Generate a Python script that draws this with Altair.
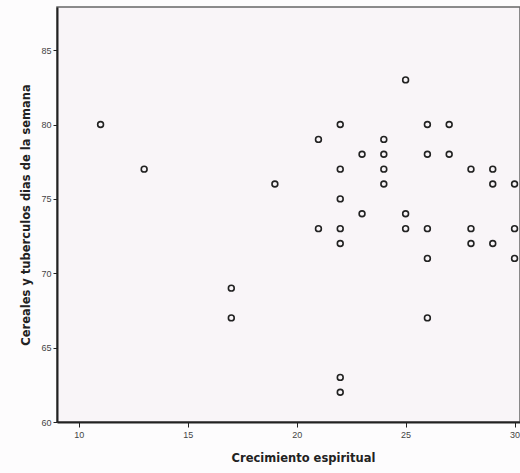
import altair as alt
import pandas as pd

crecimiento = [11, 13, 17, 17, 19, 21, 21, 22, 22, 22, 22, 22, 22, 22,
               23, 23, 24, 24, 24, 24, 25, 25, 25, 26, 26, 26, 26, 26,
               27, 27, 28, 28, 28, 29, 29, 29, 30, 30, 30]
cereales = [80, 77, 69, 67, 76, 79, 73, 80, 77, 75, 73, 72, 63, 62,
            78, 74, 79, 78, 77, 76, 83, 74, 73, 80, 78, 73, 71, 67,
            80, 78, 77, 73, 72, 77, 76, 72, 76, 73, 71]

x_ticks = [10, 15, 20, 25, 30]
y_ticks = [60, 65, 70, 75, 80, 85]

df = pd.DataFrame({"x": crecimiento, "y": cereales})

font = "Liberation Sans"
title_font = "DejaVu Sans"

chart = alt.Chart(df).mark_point(
    shape="circle", filled=False, size=34, strokeWidth=1.6, color="#222222", opacity=1
).encode(
    x=alt.X("x:Q", scale=alt.Scale(domain=[9, 30.25], nice=False, zero=False),
            axis=alt.Axis(title="Crecimiento espiritual", values=x_ticks, grid=False,
                          domainColor="#222", domainWidth=2, tickColor="#222", tickSize=5,
                          labelFontSize=9, labelColor="#444", labelFont=font, labelPadding=3,
                          titleFont=title_font, titleFontSize=11.5, titleFontWeight="bold",
                          titleColor="#222", titlePadding=13, titleX=246, titleAnchor="middle")),
    y=alt.Y("y:Q", scale=alt.Scale(domain=[60, 87.9], nice=False, zero=False),
            axis=alt.Axis(title="Cereales y tuberculos dias de la semana", values=y_ticks, grid=False,
                          domainColor="#222", domainWidth=2, tickColor="#222", tickSize=4,
                          labelFontSize=9, labelColor="#444", labelFont=font, labelPadding=2,
                          titleFont=title_font, titleFontSize=11.5, titleFontWeight="bold",
                          titleColor="#222", titlePadding=9)),
).properties(
    width=463, height=415,
    autosize=alt.AutoSizeParams(type="none"),
    padding={"left": 57, "top": 7, "right": 0, "bottom": 51},
    background="#fdfcfd",
).configure_view(
    fill="#f9f5f8", stroke="#666666", strokeWidth=1.5
)

chart.save("out.html", embed_options={"renderer": "svg", "actions": False})
